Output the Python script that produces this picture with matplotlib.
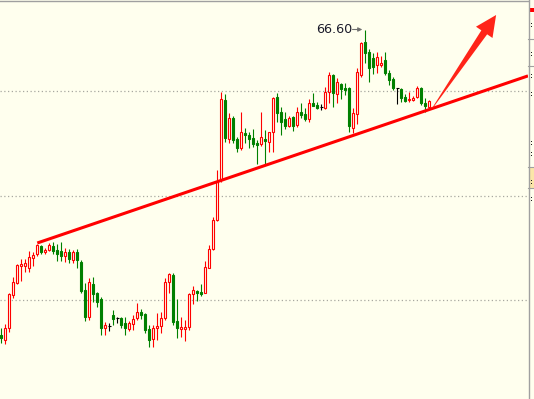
import matplotlib
matplotlib.use("Agg")
import matplotlib.pyplot as plt
from matplotlib.patches import Rectangle, Polygon
import matplotlib.transforms as mtransforms
import numpy as np

# ---- data ----
opens = [60.49, 60.39, 60.63, 61.29, 61.53, 61.87, 61.87, 61.83, 62.03, 62.11,
         62.27, 62.15, 62.19, 62.27, 62.19, 62.17, 62.07, 62.15, 61.99, 62.15,
         61.95, 61.39, 60.85, 61.51, 61.33, 61.21, 60.63, 60.67, 60.89, 60.83,
         60.83, 60.73, 60.61, 60.71, 60.83, 60.95, 60.91, 60.61, 60.41, 60.63,
         60.67, 60.83, 61.55, 61.69, 60.77, 60.61, 60.61, 60.65, 61.31, 61.37,
         61.35, 61.33, 61.83, 62.21, 62.79, 63.59, 65.19, 64.41, 64.83, 64.41,
         64.23, 64.53, 64.49, 64.43, 64.33, 64.31, 64.41, 64.35, 64.55, 65.25,
         64.95, 64.81, 64.67, 64.85, 64.69, 64.95, 64.91, 64.81, 65.13, 65.09,
         65.05, 65.03, 65.35, 65.69, 65.31, 65.51, 65.43, 65.43, 64.63, 64.91,
         65.69, 66.35, 66.15, 66.03, 65.89, 65.89, 65.99, 65.73, 65.61, 65.43,
         65.41, 65.25, 65.19, 65.19, 65.25, 65.43, 65.13, 65.05]
highs = [60.63, 60.71, 61.33, 61.65, 61.91, 62.01, 62.01, 62.17, 62.15, 62.31,
         62.29, 62.23, 62.33, 62.35, 62.31, 62.35, 62.23, 62.21, 62.19, 62.21,
         61.99, 61.53, 61.63, 61.65, 61.35, 61.25, 60.75, 60.73, 60.99, 60.85,
         60.85, 60.85, 60.77, 60.89, 61.13, 61.01, 60.93, 60.69, 60.69, 60.93,
         60.95, 61.63, 61.73, 61.73, 61.21, 60.85, 60.79, 61.33, 61.47, 61.39,
         61.51, 61.97, 62.29, 62.85, 63.79, 65.35, 65.31, 64.93, 64.87, 64.45,
         64.95, 64.63, 64.55, 64.61, 64.39, 64.95, 64.59, 64.55, 65.25, 65.33,
         65.05, 64.95, 64.87, 64.87, 65.05, 65.13, 65.03, 65.21, 65.33, 65.15,
         65.11, 65.45, 65.75, 65.71, 65.63, 65.53, 65.53, 65.45, 65.03, 65.83,
         66.35, 66.60, 66.21, 66.13, 66.15, 66.07, 66.15, 65.79, 65.65, 65.43,
         65.43, 65.31, 65.35, 65.27, 65.47, 65.45, 65.23, 65.19]
lows = [60.33, 60.31, 60.55, 61.23, 61.51, 61.57, 61.75, 61.75, 61.87, 62.07,
        62.11, 62.11, 62.17, 62.11, 61.97, 61.97, 61.95, 61.93, 61.93, 61.83,
        61.33, 60.77, 60.79, 61.15, 61.05, 60.49, 60.49, 60.57, 60.69, 60.73,
        60.63, 60.49, 60.57, 60.59, 60.79, 60.81, 60.53, 60.25, 60.25, 60.39,
        60.53, 60.79, 61.33, 60.69, 60.43, 60.45, 60.37, 60.59, 61.11, 61.17,
        61.27, 61.33, 61.83, 62.19, 62.77, 63.55, 64.35, 64.33, 64.33, 64.15,
        64.19, 64.33, 64.23, 64.25, 63.91, 64.27, 63.89, 64.15, 64.15, 64.75,
        64.49, 64.61, 64.65, 64.57, 64.65, 64.83, 64.77, 64.75, 65.07, 65.01,
        64.99, 65.01, 65.13, 65.05, 65.13, 65.21, 65.29, 64.55, 64.53, 64.71,
        65.65, 65.93, 65.55, 65.71, 65.73, 65.85, 65.69, 65.49, 65.39, 65.11,
        65.15, 65.15, 65.15, 65.17, 65.23, 65.09, 64.95, 65.03]
closes = [60.43, 60.63, 61.31, 61.55, 61.89, 61.91, 61.93, 62.05, 62.09, 62.29,
          62.15, 62.19, 62.29, 62.17, 62.11, 62.07, 62.15, 62.01, 62.15, 61.99,
          61.37, 60.85, 61.55, 61.31, 61.15, 60.63, 60.69, 60.67, 60.81, 60.83,
          60.69, 60.63, 60.73, 60.81, 60.95, 60.89, 60.59, 60.39, 60.63, 60.67,
          60.83, 61.55, 61.71, 60.75, 60.63, 60.65, 60.65, 61.31, 61.39, 61.33,
          61.31, 61.85, 62.21, 62.79, 63.55, 65.21, 64.43, 64.83, 64.39, 64.23,
          64.55, 64.49, 64.41, 64.31, 64.29, 64.45, 64.37, 64.55, 65.23, 64.93,
          64.75, 64.67, 64.83, 64.67, 64.95, 64.89, 64.81, 65.13, 65.07, 65.03,
          65.05, 65.35, 65.69, 65.33, 65.55, 65.41, 65.39, 64.67, 64.93, 65.75,
          66.33, 66.13, 65.83, 65.85, 66.05, 65.93, 65.73, 65.59, 65.43, 65.43,
          65.23, 65.17, 65.21, 65.23, 65.43, 65.13, 65.07, 65.17]

grid_levels = [65.37, 63.28, 61.20]
peak_label = "66.60"
trend_start = (9, 62.33)
trend_anchor = (107, 65.00)
arrow_tail = (107.8, 65.03)
arrow_tip = (123.7, 66.89)

# ---- style ----
BG = "#FFFFEE"
RED = "#FF0000"
GREEN = "#008000"
GRID = "#A8A8A0"

W, H = 534, 399
fig = plt.figure(figsize=(W / 100, H / 100), dpi=100)
fig.patch.set_facecolor(BG)
ax = fig.add_axes([0, 0, 528 / W, 398 / H])
ax.set_facecolor(BG)
xmin = -0.325
ax.set_xlim(xmin, xmin + 132)
ax.set_ylim(59.21, 67.17)
for s in ["left", "right", "bottom"]:
    ax.spines[s].set_visible(False)
ax.spines["top"].set_color("#A0A0A0")
ax.spines["top"].set_linewidth(1.0)
ax.set_xticks([])
ax.set_yticks([])

for g in grid_levels:
    ax.axhline(g, color=GRID, lw=0.9, ls=(0, (1, 2)), zorder=0)

bw = 0.55
for i, (o, h, l, c) in enumerate(zip(opens, highs, lows, closes)):
    if c > o:
        ax.vlines(i, c, h, color=RED, lw=0.8, zorder=2)
        ax.vlines(i, l, o, color=RED, lw=0.8, zorder=2)
        ax.add_patch(Rectangle((i - bw / 2, o), bw, c - o, facecolor=BG,
                               edgecolor=RED, lw=0.8, zorder=3))
    elif c < o:
        ax.vlines(i, l, h, color=GREEN, lw=0.8, zorder=2)
        ax.add_patch(Rectangle((i - bw / 2, c), bw, o - c, facecolor=GREEN,
                               edgecolor=GREEN, lw=0.8, zorder=3))
    else:
        ax.vlines(i, l, h, color="black", lw=0.8, zorder=2)
        ax.hlines(o, i - 0.45, i + 0.45, color="black", lw=0.8, zorder=3)

# trend line
slope = (trend_anchor[1] - trend_start[1]) / (trend_anchor[0] - trend_start[0])
x_end = xmin + 132
ax.plot([trend_start[0], x_end],
        [trend_start[1], trend_start[1] + slope * (x_end - trend_start[0])],
        color=RED, lw=2.2, solid_capstyle="butt", zorder=5)

# peak label with arrow
pk = int(np.argmax(highs))
ax.annotate("", xy=(pk - 0.75, highs[pk]), xytext=(pk - 3.2, highs[pk]),
            arrowprops=dict(arrowstyle="-|>", color="#707070", lw=0.8,
                            mutation_scale=6, shrinkA=0, shrinkB=0), zorder=6)
ax.text(pk - 3.3, highs[pk], peak_label, ha="right", va="center",
        fontsize=9.2, color="#1A1A2A", family="DejaVu Sans", zorder=6)

# big arrow (wedge shaped)
fig.canvas.draw()
t = ax.transData
p0 = np.array(t.transform(arrow_tail))
p1 = np.array(t.transform(arrow_tip))
d = p1 - p0
L = np.hypot(*d)
u = d / L
n = np.array([-u[1], u[0]])
head_len = 21
shaft_w = 3.5
head_w = 10
base = p1 - u * head_len
verts = [p0 + n * 0.3, base + n * shaft_w, base + n * head_w, p1,
         base - n * head_w, base - n * shaft_w, p0 - n * 0.3]
ax.add_patch(Polygon(verts, closed=True, facecolor="#FF2418", edgecolor="none",
                     transform=mtransforms.IdentityTransform(), zorder=7))

# right-hand panel remnants
fig.add_artist(plt.Line2D([528.5 / W, 528.5 / W], [0, 1], color="#A0A0A0",
                          lw=1.0, transform=fig.transFigure))
for yy in [39, 66, 167, 188]:
    fig.add_artist(plt.Line2D([528 / W, 1], [1 - yy / H, 1 - yy / H],
                              color="#A0A0A0", lw=0.8, transform=fig.transFigure))
fig.add_artist(Rectangle((529 / W, 1 - 188 / H), 5 / W, 20 / H,
                         facecolor="#FBE6A8", edgecolor="none",
                         transform=fig.transFigure))
fig.add_artist(Rectangle((530 / W, 1 - 12 / H), 4 / W, 4 / H,
                         facecolor=RED, edgecolor="none",
                         transform=fig.transFigure))
for yy in [24, 27, 53, 56, 75, 78, 93, 96, 142, 145, 153, 156, 181, 184, 198, 201]:
    fig.add_artist(Rectangle((531 / W, 1 - yy / H), 1 / W, 1 / H,
                             facecolor="#202020", edgecolor="none",
                             transform=fig.transFigure))

fig.savefig("out.png", dpi=100, facecolor=BG)
